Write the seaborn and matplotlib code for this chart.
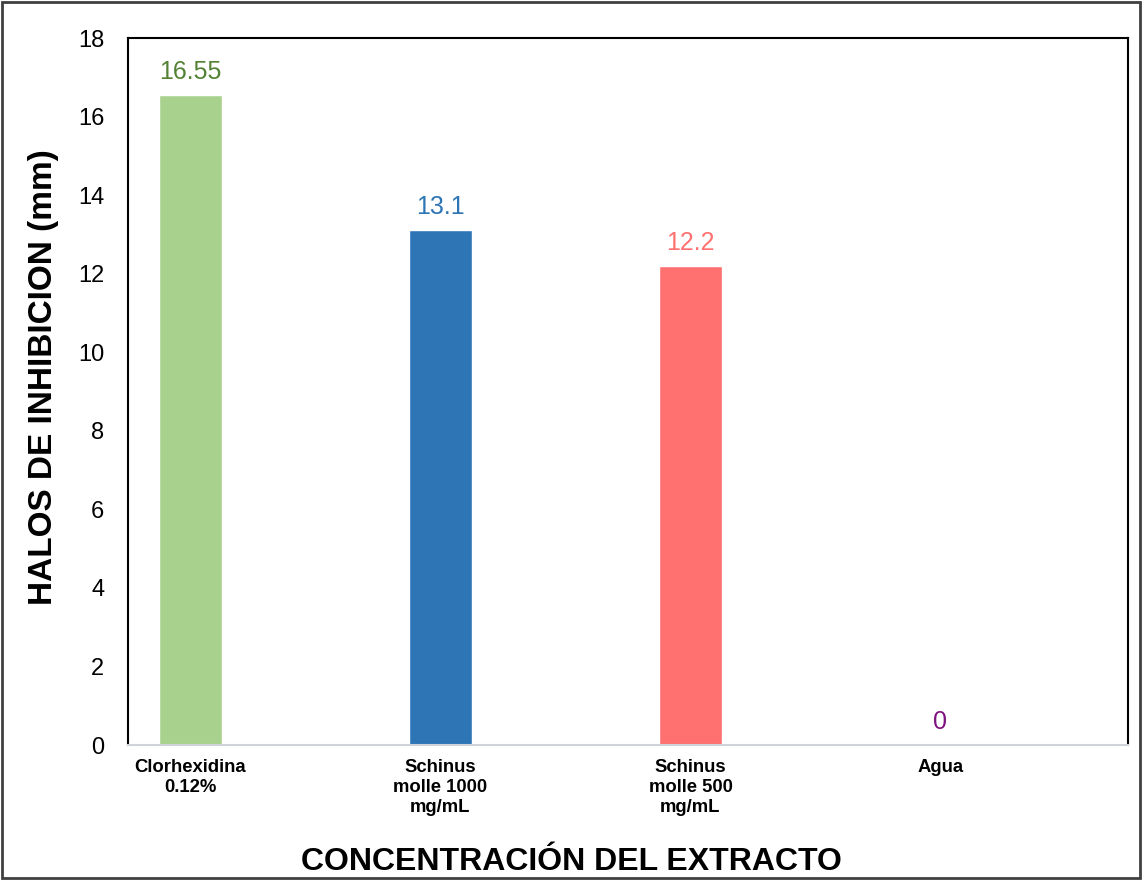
import seaborn as sns
import matplotlib.pyplot as plt
import pandas as pd
from matplotlib.patches import Rectangle

categorias = ['Clorhexidina\n0.12%', 'Schinus\nmolle 1000\nmg/mL', 'Schinus\nmolle 500\nmg/mL', 'Agua']
halos = [16.55, 13.1, 12.2, 0]
colores = ['#A9D18E', '#2E75B6', '#FF7171', '#A9D18E']
colores_texto = ['#548235', '#2E75B6', '#FF7171', '#7F127F']
yticks = [0, 2, 4, 6, 8, 10, 12, 14, 16, 18]

df = pd.DataFrame({'cat': categorias, 'halo': halos})

sns.set_style('white')
plt.rcParams['font.family'] = ['Liberation Sans', 'DejaVu Sans']
plt.rcParams['text.color'] = 'black'
plt.rcParams['xtick.color'] = 'black'
plt.rcParams['ytick.color'] = 'black'
plt.rcParams['axes.labelcolor'] = 'black'

fig = plt.figure(figsize=(11.42, 8.8), dpi=100)
ax = fig.add_axes([0.1121, 0.1534, 0.8756, 0.8034])

sns.barplot(data=df, x='cat', y='halo', hue='cat', palette=colores, width=0.25,
            legend=False, ax=ax, saturation=1)

for cont, c in zip(ax.containers, colores_texto):
    ax.bar_label(cont, fmt='%g', color=c, fontsize=18, padding=8)

ax.set_xlim(-0.25, 3.75)
ax.set_ylim(0, 18)
ax.set_yticks(yticks)
ax.tick_params(axis='y', labelsize=17, length=0, pad=17)
ax.tick_params(axis='x', length=0, pad=10)
for lab in ax.get_xticklabels():
    lab.set_fontweight('bold')
    lab.set_fontsize(13.3)
    lab.set_linespacing(1.25)

ax.set_xlabel('CONCENTRACIÓN DEL EXTRACTO', fontsize=23, fontweight='bold', labelpad=22)
ax.set_ylabel('HALOS DE INHIBICION (mm)', fontsize=24, fontweight='bold', labelpad=14)
ax.xaxis.label.set_x(0.443)
ax.yaxis.label.set_y(0.52)

for s in ['left', 'top', 'right']:
    ax.spines[s].set_color('black')
    ax.spines[s].set_linewidth(1.5)
ax.spines['bottom'].set_color('#D0D4D8')
ax.spines['bottom'].set_linewidth(1.5)

fig.patches.append(Rectangle((0.002, 0.002), 0.996, 0.996, transform=fig.transFigure,
                             fill=False, edgecolor='#404040', linewidth=2))

fig.savefig('out.png', dpi=100)
